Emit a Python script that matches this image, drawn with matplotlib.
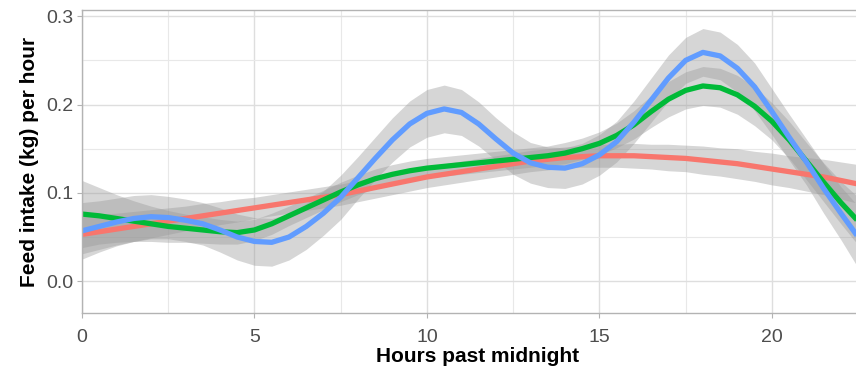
import numpy as np
import matplotlib.pyplot as plt

plt.rcParams['font.family'] = ['Liberation Sans', 'DejaVu Sans']

# hours past midnight (every half hour)
hours = np.arange(0, 23.01, 0.5)

# smoothed feed intake per group (kg per hour)
red_fit = [0.053, 0.056, 0.059, 0.062, 0.065, 0.068, 0.071, 0.074, 0.077, 0.080,
           0.083, 0.086, 0.089, 0.092, 0.095, 0.098, 0.102, 0.106, 0.110, 0.114,
           0.118, 0.121, 0.124, 0.127, 0.130, 0.133, 0.136, 0.138, 0.140, 0.141,
           0.142, 0.142, 0.142, 0.141, 0.140, 0.139, 0.137, 0.135, 0.133, 0.130,
           0.127, 0.124, 0.121, 0.118, 0.114, 0.110, 0.106]
red_se = [0.022, 0.020, 0.018, 0.017, 0.016, 0.015, 0.014, 0.014, 0.013, 0.013,
          0.012, 0.012, 0.012, 0.012, 0.012, 0.012, 0.012, 0.012, 0.012, 0.012,
          0.012, 0.012, 0.012, 0.012, 0.012, 0.012, 0.012, 0.012, 0.012, 0.012,
          0.013, 0.013, 0.014, 0.014, 0.015, 0.015, 0.016, 0.016, 0.017, 0.017,
          0.018, 0.018, 0.019, 0.020, 0.021, 0.022, 0.024]

green_fit = [0.076, 0.074, 0.071, 0.068, 0.065, 0.062, 0.060, 0.058, 0.056, 0.055,
             0.058, 0.065, 0.074, 0.083, 0.092, 0.101, 0.109, 0.116, 0.121, 0.125,
             0.128, 0.130, 0.132, 0.134, 0.136, 0.138, 0.140, 0.142, 0.145, 0.150,
             0.156, 0.165, 0.177, 0.192, 0.206, 0.216, 0.221, 0.219, 0.211, 0.198,
             0.181, 0.160, 0.136, 0.112, 0.089, 0.068, 0.048]
green_se = [0.038, 0.032, 0.027, 0.023, 0.020, 0.018, 0.016, 0.015, 0.014, 0.013,
            0.012, 0.012, 0.011, 0.011, 0.011, 0.011, 0.011, 0.011, 0.011, 0.011,
            0.011, 0.011, 0.011, 0.011, 0.011, 0.011, 0.011, 0.011, 0.012, 0.012,
            0.013, 0.014, 0.016, 0.018, 0.020, 0.021, 0.022, 0.022, 0.022, 0.022,
            0.021, 0.021, 0.021, 0.022, 0.024, 0.027, 0.030]

blue_fit = [0.057, 0.062, 0.067, 0.071, 0.073, 0.072, 0.069, 0.065, 0.058, 0.050,
            0.045, 0.044, 0.050, 0.062, 0.077, 0.095, 0.117, 0.139, 0.160, 0.178,
            0.190, 0.195, 0.191, 0.178, 0.161, 0.145, 0.134, 0.129, 0.128, 0.133,
            0.143, 0.158, 0.180, 0.205, 0.230, 0.250, 0.259, 0.255, 0.241, 0.220,
            0.192, 0.163, 0.135, 0.105, 0.077, 0.050, 0.027]
blue_se = [0.032, 0.029, 0.027, 0.026, 0.025, 0.024, 0.024, 0.024, 0.025, 0.026,
           0.027, 0.027, 0.026, 0.026, 0.025, 0.025, 0.024, 0.024, 0.025, 0.026,
           0.027, 0.027, 0.026, 0.025, 0.024, 0.024, 0.023, 0.023, 0.023, 0.023,
           0.023, 0.023, 0.024, 0.025, 0.026, 0.026, 0.027, 0.027, 0.027, 0.027,
           0.026, 0.026, 0.026, 0.028, 0.030, 0.035, 0.040]

series = [(red_fit, red_se, '#F8766D'),
          (green_fit, green_se, '#00BA38'),
          (blue_fit, blue_se, '#619CFF')]

fig = plt.figure(figsize=(8.56, 3.71), dpi=100)
# panel runs a bit past the right edge of the picture (it was cropped)
ax = fig.add_axes([82/856, 58/371, 792/856, 303/371])

for fit, se, col in series:
    fit = np.array(fit)
    se = np.array(se)
    ax.fill_between(hours, fit - se, fit + se, color='#999999', alpha=0.4, lw=0)
    ax.plot(hours, fit, color=col, lw=3.8, solid_capstyle='butt',
            solid_joinstyle='round')

ax.set_xlim(0, 22.96)
ax.set_ylim(-0.036, 0.307)
ax.set_xticks([0, 5, 10, 15, 20])
ax.set_yticks([0.0, 0.1, 0.2, 0.3])
ax.set_xticks(np.arange(2.5, 23, 5), minor=True)
ax.set_yticks([0.05, 0.15, 0.25], minor=True)
ax.grid(which='major', color='#DEDEDE', lw=1.0)
ax.grid(which='minor', color='#E8E8E8', lw=0.8)
ax.set_axisbelow(True)

for s in ax.spines.values():
    s.set_color('#B3B3B3')
    s.set_linewidth(1.0)
ax.tick_params(which='major', length=3.5, color='#B3B3B3', labelsize=14,
               labelcolor='#4D4D4D')
ax.tick_params(axis='x', which='major', pad=8)
ax.tick_params(axis='y', which='major', pad=3)
ax.tick_params(which='minor', length=0)

ax.set_xlabel('Hours past midnight', fontsize=15, fontweight='bold', labelpad=1)
ax.set_ylabel('Feed intake (kg) per hour', fontsize=15, fontweight='bold', labelpad=5)

fig.savefig('out.png', dpi=100)
